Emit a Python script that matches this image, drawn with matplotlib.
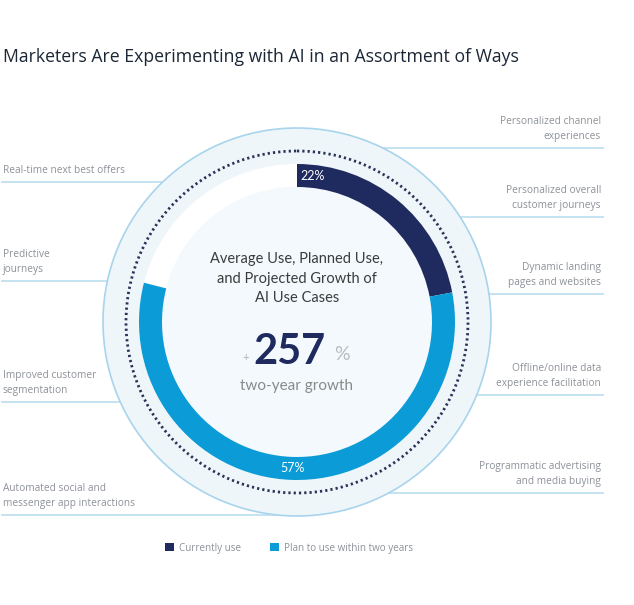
import numpy as np
import matplotlib
matplotlib.use("Agg")
import matplotlib.pyplot as plt
from matplotlib.patches import Wedge, Circle, Patch

# data
series = ["Currently use", "Plan to use within two years"]
shares = [22, 57]
growth = 257
colors = ["#1f2a5e", "#0b9bd7"]

left_cases = ["Real-time next best offers",
              "Predictive\njourneys",
              "Improved customer\nsegmentation",
              "Automated social and\nmessenger app interactions"]
right_cases = ["Personalized channel\nexperiences",
               "Personalized overall\ncustomer journeys",
               "Dynamic landing\npages and websites",
               "Offline/online data\nexperience facilitation",
               "Programmatic advertising\nand media buying"]
left_lines_y = [182, 281, 402, 515]
right_lines_y = [148, 217, 294, 395, 493]

W, H = 634, 605
fig = plt.figure(figsize=(W / 100, H / 100), dpi=100)
ax = fig.add_axes([0, 0, 1, 1])
ax.set_xlim(0, W)
ax.set_ylim(H, 0)
ax.set_aspect("equal")
ax.axis("off")

cx, cy = 297, 322
r_out = 194
r_dot = 171
r_ring = 158
ring_w = 23

label_c = "#8d9299"
line_c = "#bfe0f0"

# background discs
ax.add_patch(Circle((cx, cy), r_out, facecolor="#eef6fa", edgecolor="#a8d4ec", lw=1.2, zorder=1))
ax.add_patch(Circle((cx, cy), r_dot, fill=False, edgecolor="#2a3358", lw=2.0,
                    linestyle=(0, (0.8, 1.1)), zorder=2))
ax.add_patch(Wedge((cx, cy), r_ring, 0, 360, width=ring_w, facecolor="white", edgecolor="none", zorder=2))
ax.add_patch(Circle((cx, cy), r_ring - ring_w, facecolor="#f3f9fc", edgecolor="none", zorder=2))

# ring segments, clockwise from top (y axis inverted -> top is 270 deg)
start = 0.0
for val, col in zip(shares, colors):
    t1 = 270 + start * 3.6
    t2 = 270 + (start + val) * 3.6
    ax.add_patch(Wedge((cx, cy), r_ring, t1, t2, width=ring_w, facecolor=col, edgecolor="none", zorder=3))
    start += val

rm = r_ring - ring_w / 2
a1 = np.deg2rad(270 + 6)
ax.text(cx + rm * np.cos(a1), cy + rm * np.sin(a1), f"{shares[0]}%", color="white",
        fontsize=9, ha="center", va="center", family="Lato", zorder=4)
a2 = np.deg2rad(270 + (shares[0] + shares[1] / 2) * 3.6)
ax.text(cx + rm * np.cos(a2), cy + rm * np.sin(a2), f"{shares[1]}%", color="white",
        fontsize=9, ha="center", va="center", family="Lato", zorder=4)

# centre text
ax.text(cx, 279, "Average Use, Planned Use,\nand Projected Growth of\nAI Use Cases",
        ha="center", va="center", fontsize=10.5, color="#3c3c3c", family="Lato",
        linespacing=1.5, zorder=4)
ax.text(cx - 8, 352, str(growth), ha="center", va="center", fontsize=30, fontweight="bold",
        color=colors[0], family="Lato", zorder=4)
ax.text(246, 357, "+", ha="center", va="center", fontsize=8, color="#b0b0b0", family="Lato", zorder=4)
ax.text(334, 355, "%", ha="left", va="center", fontsize=14, color="#b8bcc0", family="Lato", zorder=4)
ax.text(cx, 386, "two-year growth", ha="center", va="center", fontsize=11, color="#8a8a8a",
        family="Lato", zorder=4)

# side labels and leader lines
for txt, y in zip(left_cases, left_lines_y):
    dx = np.sqrt(max(r_out ** 2 - (y - cy) ** 2, 0))
    ax.plot([2, cx - dx], [y, y], color=line_c, lw=1.3, zorder=0.5)
    ax.text(3, y - 6, txt, ha="left", va="bottom", fontsize=7.3, color=label_c,
            family="Open Sans", linespacing=1.5)
for txt, y in zip(right_cases, right_lines_y):
    dx = np.sqrt(max(r_out ** 2 - (y - cy) ** 2, 0))
    ax.plot([cx + dx, 603], [y, y], color=line_c, lw=1.3, zorder=0.5)
    ax.text(601, y - 6, txt, ha="right", va="bottom", fontsize=7.3, color=label_c,
            family="Open Sans", linespacing=1.5, multialignment="right")

# title
ax.text(3, 57, "Marketers Are Experimenting with AI in an Assortment of Ways", ha="left",
        va="center", fontsize=12.7, color="#1b2636", family="Open Sans")

# legend
handles = [Patch(facecolor=c, edgecolor="none", label=s) for s, c in zip(series, colors)]
leg = ax.legend(handles=handles, loc="center", bbox_to_anchor=(289 / W, 1 - 548 / H), ncol=2,
                frameon=False, handlelength=0.9, handleheight=0.9, handletextpad=0.5,
                columnspacing=3.0, prop={"family": "Open Sans", "size": 7.1})
for t in leg.get_texts():
    t.set_color(label_c)

fig.savefig("out.png", dpi=100, facecolor="white")
